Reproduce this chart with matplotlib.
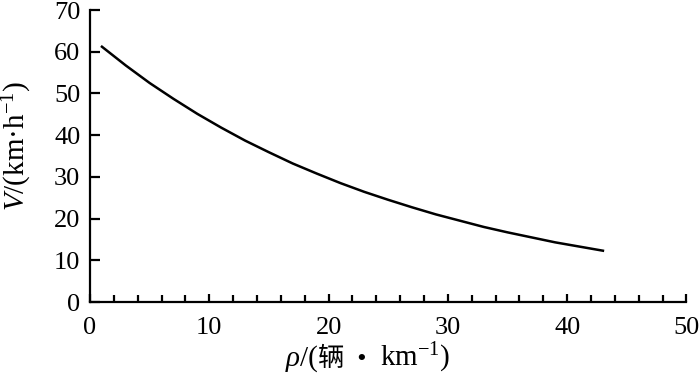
import matplotlib
matplotlib.use("Agg")
import matplotlib.pyplot as plt
from matplotlib.ticker import MultipleLocator
from matplotlib.offsetbox import TextArea, HPacker, AnchoredOffsetbox

# values
density = [1, 3, 5, 7, 9, 11, 13, 15, 17, 19, 21, 23, 25, 27, 29, 31, 33, 35, 37, 39, 41, 43]
speed = [61.2, 56.7, 52.5, 48.7, 45.1, 41.8, 38.7, 35.9, 33.2, 30.8, 28.5, 26.4,
         24.5, 22.7, 21.0, 19.5, 18.0, 16.7, 15.5, 14.3, 13.3, 12.3]

x_ticks = [0, 10, 20, 30, 40, 50]
y_ticks = [0, 10, 20, 30, 40, 50, 60, 70]

plt.rcParams['font.family'] = ['Liberation Serif', 'Noto Sans CJK SC']
plt.rcParams['mathtext.fontset'] = 'custom'
plt.rcParams['mathtext.rm'] = 'Liberation Serif'
plt.rcParams['mathtext.it'] = 'Liberation Serif:italic'

fig = plt.figure(figsize=(7, 3.82), dpi=100)
ax = fig.add_axes([0.1286, 0.2094, 0.852, 0.7644])

ax.plot(density, speed, color='black', lw=1.8)

ax.set_xlim(0, 50)
ax.set_ylim(0, 70)
ax.set_xticks(x_ticks)
ax.set_yticks(y_ticks)
ax.xaxis.set_minor_locator(MultipleLocator(2))

for s in ['top', 'right']:
    ax.spines[s].set_visible(False)
for s in ['left', 'bottom']:
    ax.spines[s].set_linewidth(1.6)

ax.tick_params(axis='y', direction='in', length=7, width=1.6, labelsize=19, pad=7)
ax.tick_params(axis='x', which='minor', direction='in', length=5, width=1.6)
ax.tick_params(axis='x', which='major', direction='in', length=6, width=1.6, labelsize=19, pad=11)

# x label: italic rho + CJK text + superscript, packed side by side
fs = 21
parts = [
    TextArea('ρ', textprops=dict(fontsize=fs, fontstyle='italic', family='Liberation Serif')),
    TextArea('/(', textprops=dict(fontsize=fs, family='Liberation Serif')),
    TextArea('辆', textprops=dict(fontsize=fs - 2, family='Noto Sans CJK SC')),
    TextArea('  •  ', textprops=dict(fontsize=fs - 2, family='Liberation Serif')),
    TextArea(r'km$^{-1}$)', textprops=dict(fontsize=fs)),
]
box = HPacker(children=parts, align='baseline', pad=0, sep=0)
anch = AnchoredOffsetbox(loc='center', child=box, frameon=False, pad=0, borderpad=0,
                         bbox_to_anchor=(368 / 700, 1 - 358 / 382),
                         bbox_transform=fig.transFigure)
fig.add_artist(anch)

fig.text(17 / 700, 1 - 146 / 382, r'$\it{V}$/(km·h$^{-1}$)', fontsize=fs,
         rotation=90, ha='center', va='center')

fig.savefig('out.png', dpi=100)
